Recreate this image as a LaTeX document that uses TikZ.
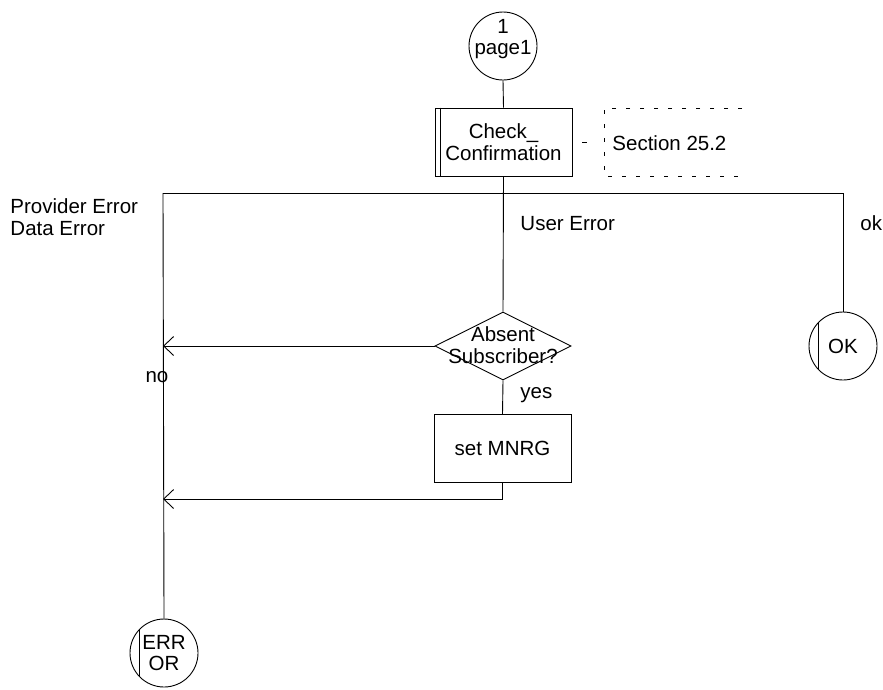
\documentclass[tikz,border=0pt]{standalone}
\usepackage{fontspec}
\setmainfont{Liberation Sans}
\usetikzlibrary{shapes.geometric,arrows.meta}

\begin{document}
\begin{tikzpicture}[
    x=1pt, y=-1pt,
    >={Straight Barb[length=10pt,width=19pt]}, line width=0.9pt,
    every node/.style={font=\fontsize{20.5}{21.5}\selectfont, inner sep=0pt},
    conn/.style={draw, circle, minimum size=68pt},
    proc/.style={draw, rectangle, minimum width=137pt, minimum height=68pt, align=center},
    decision/.style={draw, diamond, minimum width=136pt, minimum height=68pt},
    comment/.style={dash pattern=on 4pt off 10pt},
    lbl/.style={anchor=base west, align=left}
]
\useasboundingbox (0,0) rectangle (883,689);

\node[conn] (start) at (503,46) {};
\node[align=center] (starttxt) at (503,39) {1\\page1};
\node[proc] (chk) at (503.5,142) {Check\_\\Confirmation};
\draw ([xshift=6pt]chk.north west) -- ([xshift=6pt]chk.south west);
\node[anchor=west] (sect) at (612,143) {Section 25.2};
\coordinate (cmt) at (604,142);
\draw[comment] (742,108) -- (604,108) -- (604,176) -- (742,176);
\draw[dash pattern=on 5pt off 30pt, dash phase=25pt] (chk.east) -- (cmt);

\coordinate (lefttop) at (163,193);
\coordinate (righttop) at (843,193);
\node[decision] (absent) at (503,346) {};
\node[align=center] (absenttxt) at (503,345) {Absent\\Subscriber?};
\node[conn] (ok) at (843,346) {OK};
\draw (ok.135) -- (ok.225);
\node[proc] (mnrg) at (502.5,448.5) {set MNRG};
\node[conn, align=center] (err) at (164,653) {ERR\\OR};
\draw (err.135) -- (err.225);
\coordinate (noend) at (163,346);
\coordinate (mnrgend) at (163,499);

\draw (start.south) -- (chk.north);
\draw (chk.south) -- (absent.north);
\draw (lefttop) -- (righttop) -- (ok.north);
\draw (lefttop) -- (err.north);
\draw[->] (absent.west) -- (noend);
\draw (absent.south) -- (mnrg.north);
\draw[->] (mnrg.south) |- (mnrgend);

\node[lbl] (errlbl) at (10,235) {Provider Error\\Data Error};
\node[lbl] (userlbl) at (520,230) {User Error};
\node[lbl] (oklbl) at (860,230) {ok};
\node[anchor=center] (nolbl) at (157,377) {no};
\node[lbl] (yeslbl) at (520,398) {yes};
\end{tikzpicture}
\end{document}
